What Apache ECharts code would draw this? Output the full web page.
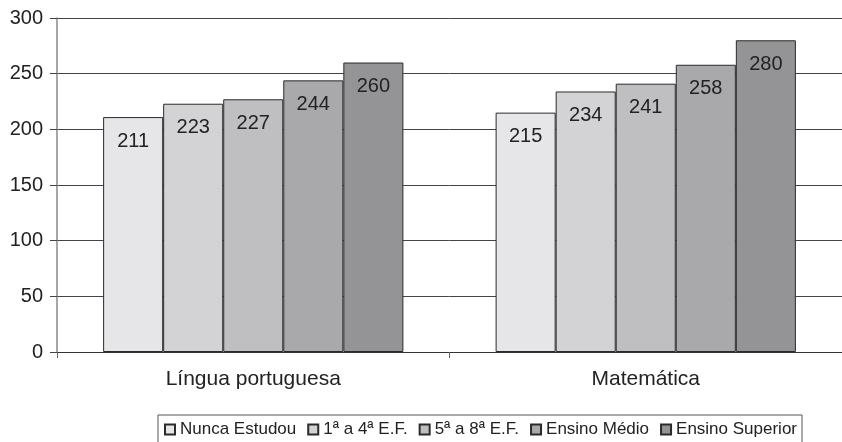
<!DOCTYPE html>
<html><head><meta charset="utf-8">
<script src="https://cdn.jsdelivr.net/npm/echarts@6/dist/echarts.min.js"></script>
<style>html,body{margin:0;padding:0;background:#fff}#c{width:842px;height:442px}</style>
</head><body><div id="c"></div>
<script>
const categories = ['Língua portuguesa', 'Matemática'];
const seriesNames = ['Nunca Estudou', '1ª a 4ª E.F.', '5ª a 8ª E.F.', 'Ensino Médio', 'Ensino Superior'];
const nuncaEstudou = [211, 215];
const primeiraQuarta = [223, 234];
const quintaOitava = [227, 241];
const ensinoMedio = [244, 258];
const ensinoSuperior = [260, 280];
const seriesValues = [nuncaEstudou, primeiraQuarta, quintaOitava, ensinoMedio, ensinoSuperior];
const colors = ['#e6e6e8', '#d3d3d5', '#bfbfc1', '#a9a9ab', '#949496'];
const font = '"Liberation Sans", Arial, Helvetica, sans-serif';

const chart = echarts.init(document.getElementById('c'), null, {renderer: 'canvas'});
chart.setOption({
  animation: false,
  backgroundColor: '#fff',
  textStyle: {fontFamily: font},
  grid: {left: 57, right: -5, top: 18, bottom: 90, containLabel: false},
  legend: {
    top: 415, left: 158,
    padding: [6, 5, 20, 6],
    borderColor: '#555', borderWidth: 1,
    itemWidth: 10, itemHeight: 10, itemGap: 11,
    icon: 'rect',
    textStyle: {fontFamily: font, fontSize: 17, color: '#222'},
    data: seriesNames
  },
  xAxis: {
    type: 'category', data: categories,
    axisLine: {lineStyle: {color: '#333', width: 1}},
    axisTick: {show: true, length: 6, lineStyle: {color: '#666'}},
    axisLabel: {fontFamily: font, fontSize: 21, color: '#222', margin: 17}
  },
  yAxis: {
    type: 'value', min: 0, max: 300, interval: 50,
    axisLine: {show: true, lineStyle: {color: '#888', width: 1.5}},
    axisTick: {show: true, length: 7, lineStyle: {color: '#444'}},
    axisLabel: {fontFamily: font, fontSize: 20, color: '#222', margin: 14},
    splitLine: {lineStyle: {color: '#444', width: 1}}
  },
  series: seriesNames.map((name, i) => ({
    name: name, type: 'bar',
    data: seriesValues[i],
    barGap: '0%', barCategoryGap: '23.5%',
    itemStyle: {color: colors[i], borderColor: '#2a2a2a', borderWidth: 1},
    label: {show: true, position: 'insideTop', distance: 14, fontFamily: font, fontSize: 20, color: '#222'}
  }))
});
</script></body></html>
